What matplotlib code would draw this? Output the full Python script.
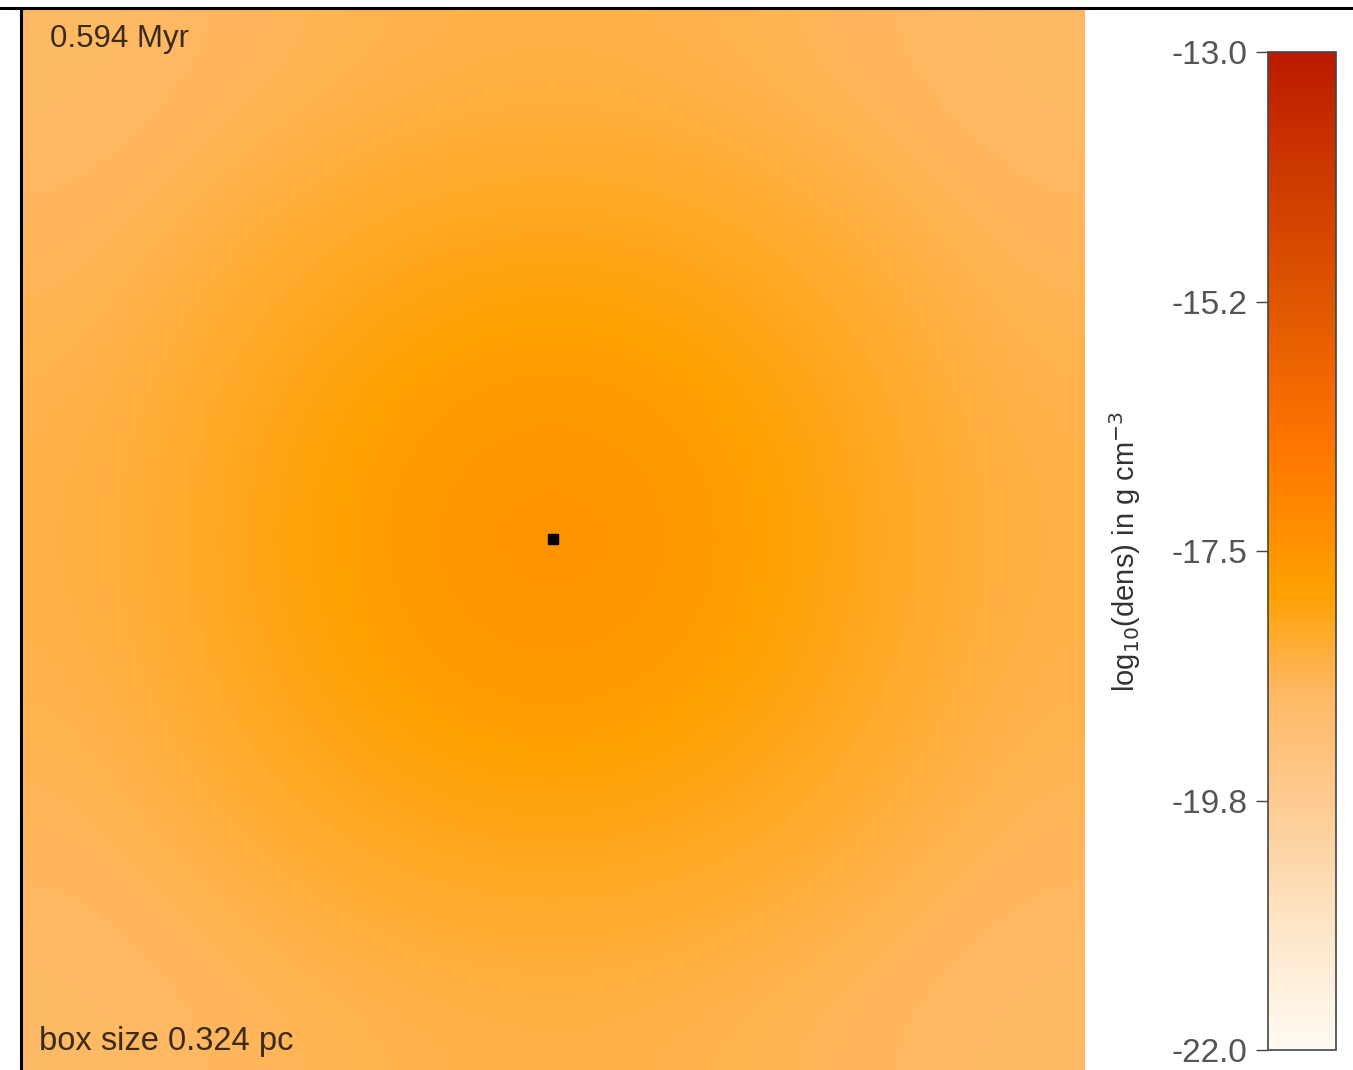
import matplotlib
matplotlib.use('Agg')
from matplotlib import pyplot as plt
from matplotlib.colors import LinearSegmentedColormap
from matplotlib.lines import Line2D
import numpy as np

# log10 density samples (g cm^-3) on a coarse 7x7 grid across the box
dens_grid = [
    [-18.85, -18.70, -18.55, -18.50, -18.55, -18.70, -18.85],
    [-18.70, -18.40, -18.15, -18.05, -18.15, -18.40, -18.70],
    [-18.55, -18.15, -17.80, -17.65, -17.80, -18.15, -18.55],
    [-18.50, -18.05, -17.65, -17.30, -17.65, -18.05, -18.50],
    [-18.55, -18.15, -17.80, -17.65, -17.80, -18.15, -18.55],
    [-18.70, -18.40, -18.15, -18.05, -18.15, -18.40, -18.70],
    [-18.85, -18.70, -18.55, -18.50, -18.55, -18.70, -18.85],
]
box_size = 0.324  # pc
sink_x = [0.0]
sink_y = [0.0]
time_label = '0.594 Myr'
vmin, vmax = -22.0, -13.0

cmap_pos = [0.0, 0.13, 0.25, 0.36, 0.46, 0.61, 0.75, 0.89, 1.0]
cmap_cols = ['#fffaf2', '#fde4c4', '#fdca90', '#ffb862', '#ffa000',
             '#ff7400', '#e05600', '#cc3600', '#bb1a00']
cmap = LinearSegmentedColormap.from_list('dens', list(zip(cmap_pos, cmap_cols)))

plt.rcParams['font.family'] = ['Liberation Sans', 'DejaVu Sans']

fig = plt.figure(figsize=(13.53, 10.70), dpi=100)
ax = fig.add_axes((21/1353, 0.0, 1064/1353, 1063/1070))
h = box_size/2
im = ax.imshow(np.array(dens_grid), cmap=cmap, vmin=vmin, vmax=vmax,
               extent=(-h, h, -h, h), interpolation='bicubic', origin='lower',
               aspect='auto')
ax.plot(sink_x, sink_y, 's', color='black', ms=7)
ax.set_xlim(-h, h)
ax.set_ylim(-h, h)
ax.axis('off')
ax.text(0.027, 0.970, time_label, transform=ax.transAxes, fontsize=22.5,
        color='#3a2a18', va='center', ha='left')
ax.text(0.017, 0.027, 'box size %.3f pc' % box_size, transform=ax.transAxes,
        fontsize=23.5, color='#3a2a18', va='center', ha='left')

# frame lines along top and left
fig.add_artist(Line2D([0, 1], [1 - 7.5/1070, 1 - 7.5/1070], color='black', lw=2.2))
fig.add_artist(Line2D([21/1353, 21/1353], [0, 1 - 7.5/1070], color='black', lw=2.2))

cax = fig.add_axes((1268/1353, 20/1070, 68/1353, 998/1070))
cb = fig.colorbar(im, cax=cax, ticks=np.linspace(vmin, vmax, 5), format='%.1f')
cb.outline.set_edgecolor('#444444')
cb.outline.set_linewidth(1.2)
cax.yaxis.set_ticks_position('left')
cax.yaxis.set_label_position('left')
cax.tick_params(axis='y', length=9, width=1, color='#444444', labelsize=24,
                labelcolor='#555555', pad=6)
cb.set_label(r'log$_{10}$(dens) in g cm$^{-3}$', fontsize=21, color='#333333',
             labelpad=20)
cax.yaxis.label.set_position((0, 0.5))

fig.savefig('out.png', dpi=100)
